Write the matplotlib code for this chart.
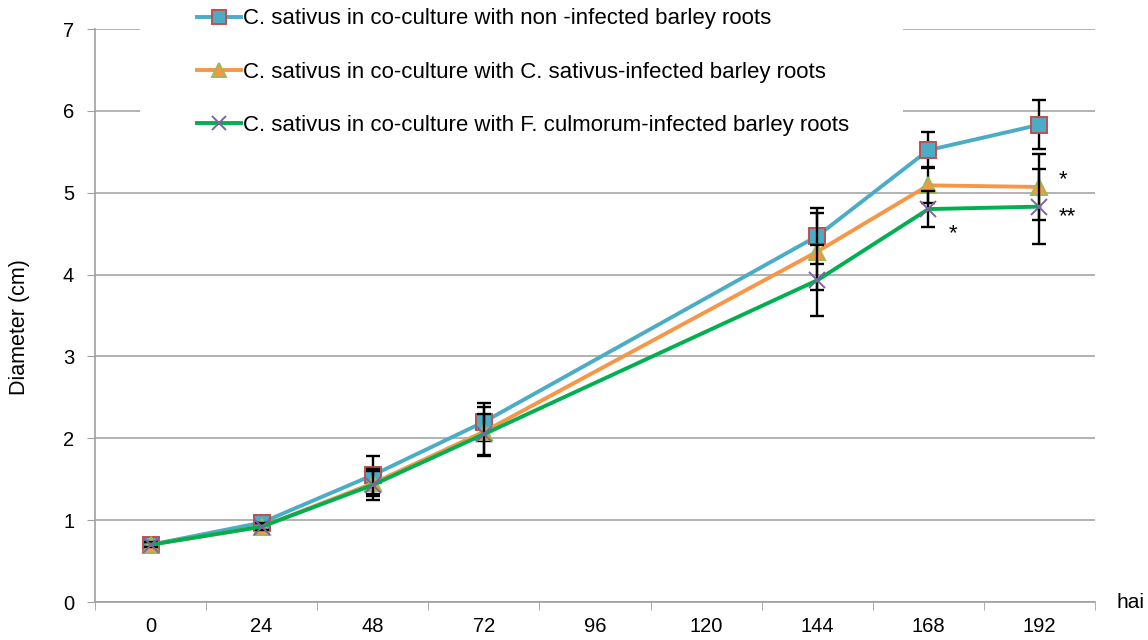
import numpy as np
import matplotlib.pyplot as plt
from matplotlib.patches import Rectangle

plt.rcParams['font.family'] = ['Liberation Sans', 'DejaVu Sans']

# categories on the x axis (hours after inoculation)
hours = ['0', '24', '48', '72', '96', '120', '144', '168', '192']
# positions of measured points (no data at 96 and 120)
measured = ['0', '24', '48', '72', '144', '168', '192']

non_infected = [0.70, 0.97, 1.55, 2.20, 4.47, 5.52, 5.83]
non_infected_err = [0.03, 0.04, 0.23, 0.23, 0.34, 0.22, 0.30]

cs_infected = [0.70, 0.92, 1.45, 2.08, 4.28, 5.09, 5.07]
cs_infected_err = [0.03, 0.04, 0.15, 0.30, 0.47, 0.22, 0.40]

fc_infected = [0.70, 0.92, 1.43, 2.05, 3.93, 4.80, 4.83]
fc_infected_err = [0.03, 0.04, 0.19, 0.25, 0.43, 0.22, 0.46]

labels = ['C. sativus in co-culture with non -infected barley roots',
          'C. sativus in co-culture with C. sativus-infected barley roots',
          'C. sativus in co-culture with F. culmorum-infected barley roots']

# significance marks: (series index, point index, text, dx px, dy px)
stars = [(1, 6, '*', 19, 7), (2, 6, '**', 19, -10), (2, 5, '*', 20, -25)]

fig = plt.figure(figsize=(11.48, 6.4), dpi=100)
ax = fig.add_axes([95 / 1148, 1 - 602 / 640, 1000 / 1148, 573 / 640])

xpos = [hours.index(h) for h in measured]
series = [non_infected, cs_infected, fc_infected]
errors = [non_infected_err, cs_infected_err, fc_infected_err]
line_colors = ['#4BACC6', '#F79646', '#00B050']
markers = ['s', '^', 'x']
face = ['#4BACC6', '#F79646', '#8064A2']
edge = ['#C0504D', '#9BBB59', '#8064A2']
msize = [11.5, 11.5, 12]

handles = []
for i, (vals, err) in enumerate(zip(series, errors)):
    ax.errorbar(xpos, vals, yerr=err, fmt='none', ecolor='black',
                elinewidth=1.7, capsize=5, capthick=1.7, zorder=3 + i * 2)
    h, = ax.plot(xpos, vals, color=line_colors[i], lw=2.8, marker=markers[i],
                 markersize=msize[i], markerfacecolor=face[i],
                 markeredgecolor=edge[i], markeredgewidth=1.4,
                 zorder=4 + i * 2, label=labels[i])
    handles.append(h)

for si, pi, txt, dx, dy in stars:
    ax.annotate(txt, (xpos[pi], series[si][pi]), xytext=(dx, dy),
                textcoords='offset pixels', fontsize=16, ha='left',
                va='center', zorder=12)

ax.set_xlim(-0.5, len(hours) - 0.5)
ax.set_ylim(0, 7)
ax.set_yticks(range(0, 8))
ax.set_xticks(range(len(hours)))
ax.set_xticklabels(hours)
ax.set_xticks(np.arange(-0.5, len(hours), 1), minor=True)
ax.tick_params(axis='x', which='major', length=0, pad=11, labelsize=14.5)
ax.tick_params(axis='x', which='minor', length=6, color='#A0A0A0', direction='out')
ax.tick_params(axis='y', length=6, color='#A0A0A0', pad=9, labelsize=14.5)
ax.yaxis.grid(True, color='#A6A6A6', lw=1.2, zorder=0)
ax.set_axisbelow(True)
for s in ['top', 'right']:
    ax.spines[s].set_visible(False)
for s in ['left', 'bottom']:
    ax.spines[s].set_color('#A0A0A0')
    ax.spines[s].set_linewidth(1.2)

ax.set_ylabel('Diameter (cm)', fontsize=15.5, labelpad=22)
ax.yaxis.set_label_coords(-0.065, 0.48)
ax.text(1.022, 0.0, 'hai', transform=ax.transAxes, fontsize=15,
        ha='left', va='center')

# white box behind the legend, hiding the gridlines there
fig.patches.append(Rectangle((140 / 1148, 1 - 145 / 640), 763 / 1148, 145 / 640,
                             transform=fig.transFigure, facecolor='white',
                             edgecolor='none', zorder=1))
ax.set_zorder(0)
ax.patch.set_visible(False)
fig.patch.set_facecolor('white')

fig.legend(handles=handles, loc='upper left',
           bbox_to_anchor=(193 / 1148, 1 - 4 / 640), frameon=False,
           fontsize=16, handlelength=1.95, handletextpad=0.1,
           labelspacing=1.45, borderaxespad=0, borderpad=0.2, markerscale=0.85)

fig.savefig('out.png', dpi=100, facecolor='white')
